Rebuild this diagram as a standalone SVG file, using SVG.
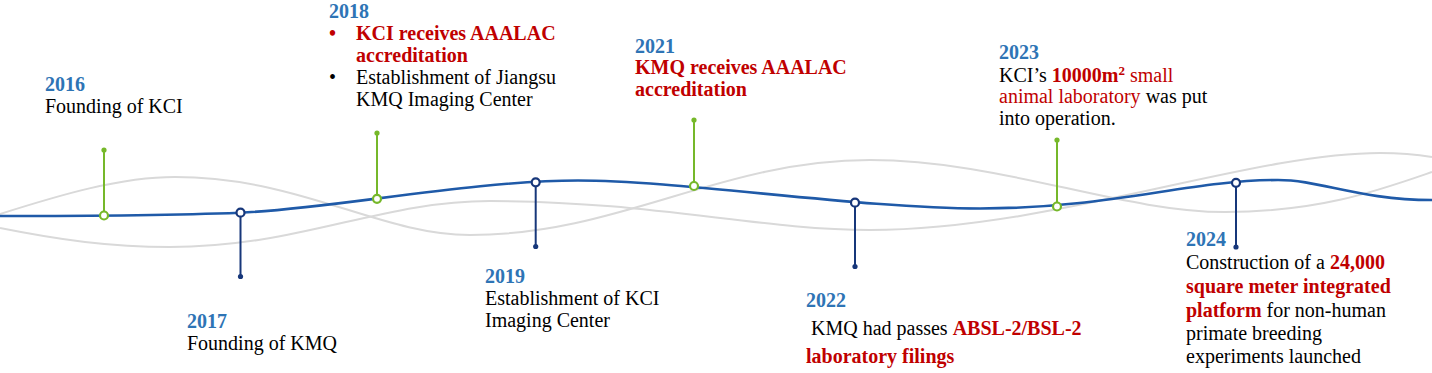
<svg xmlns="http://www.w3.org/2000/svg" width="1432" height="373" viewBox="0 0 1432 373">
<style>
text{font-family:"Liberation Serif","Times New Roman",serif;font-size:20px;fill:#000}
.yr{font-weight:bold;fill:#2e74b5}
.rb{font-weight:bold;fill:#c00000}
.rn{fill:#c00000}
.wave{fill:none;stroke:#d9d9d9;stroke-width:2}
.main{fill:none;stroke:#1f5aa8;stroke-width:2.6}
.gstem{stroke:#76b82a;stroke-width:2}
.nstem{stroke:#17377a;stroke-width:2}
.gc{fill:#fff;stroke:#76b82a;stroke-width:2.2}
.nc{fill:#fff;stroke:#17377a;stroke-width:2.2}
.gd{fill:#76b82a}
.nd{fill:#17377a}
</style>
<g id="connectors">
<path class="wave" d="M0,214 C60,195 120,177 175,177 C300,177 380,235 470,235 C620,235 720,160 870,160 C1000,160 1120,212 1225,212 C1320,212 1380,190 1432,172"/>
<path class="wave" d="M0,228 C60,240 110,247 170,247 C300,247 380,201 490,201 C650,201 760,230 870,230 C1050,230 1250,153 1380,153 C1400,153 1420,155 1432,157"/>
<path class="main" d="M0,216 C100,216 180,215 240,212.7 C330,209.2 470,180.5 578,180.5 C680,180.5 860,208.5 980,208.5 C1110,208.5 1190,180 1278,180 C1320,180 1360,200 1432,200"/>
<line class="gstem" x1="104" y1="150" x2="104" y2="211"/>
<line class="gstem" x1="377" y1="133" x2="377" y2="195"/>
<line class="gstem" x1="694" y1="120" x2="694" y2="182"/>
<line class="gstem" x1="1057" y1="140" x2="1057" y2="203"/>
<line class="nstem" x1="240.5" y1="217" x2="240.5" y2="276.5"/>
<line class="nstem" x1="535.7" y1="186" x2="535.7" y2="246.5"/>
<line class="nstem" x1="855" y1="207" x2="855" y2="266.5"/>
<line class="nstem" x1="1236" y1="187" x2="1236" y2="247"/>
</g>
<g id="n2016">
<circle class="gd" cx="104" cy="150" r="2.6"/>
<circle class="gc" cx="104" cy="215.5" r="4"/>
<text x="45" y="91" class="yr">2016</text>
<text x="45" y="113">Founding of KCI</text>
</g>
<g id="n2017">
<circle class="nc" cx="240.5" cy="212.7" r="4"/>
<circle class="nd" cx="240.5" cy="276.5" r="2.6"/>
<text x="187" y="328.3" class="yr">2017</text>
<text x="187" y="350">Founding of KMQ</text>
</g>
<g id="n2018">
<circle class="gd" cx="377" cy="133" r="2.6"/>
<circle class="gc" cx="377" cy="198.8" r="4"/>
<text x="329" y="18" class="yr">2018</text>
<text x="329" y="39.5" class="rb">•</text>
<text x="356" y="39.5" class="rb">KCI receives AAALAC</text>
<text x="356" y="61.5" class="rb">accreditation</text>
<text x="329" y="83.5">•</text>
<text x="356" y="83.5">Establishment of Jiangsu</text>
<text x="356" y="105.5">KMQ Imaging Center</text>
</g>
<g id="n2019">
<circle class="nc" cx="535.7" cy="182.3" r="4"/>
<circle class="nd" cx="535.7" cy="246.5" r="2.6"/>
<text x="485" y="283.3" class="yr">2019</text>
<text x="485" y="305">Establishment of KCI</text>
<text x="485" y="326.7">Imaging Center</text>
</g>
<g id="n2021">
<circle class="gd" cx="694" cy="120" r="2.6"/>
<circle class="gc" cx="694" cy="186" r="4"/>
<text x="635" y="52.5" class="yr">2021</text>
<text x="635" y="74" class="rb">KMQ receives AAALAC</text>
<text x="635" y="95.5" class="rb">accreditation</text>
</g>
<g id="n2022">
<circle class="nc" cx="855" cy="202.7" r="4"/>
<circle class="nd" cx="855" cy="266.5" r="2.6"/>
<text x="806" y="307.3" class="yr">2022</text>
<text x="811" y="335">KMQ had passes <tspan class="rb">ABSL-2/BSL-2</tspan></text>
<text x="806" y="362.5" class="rb">laboratory filings</text>
</g>
<g id="n2023">
<circle class="gd" cx="1057" cy="140" r="2.6"/>
<circle class="gc" cx="1057" cy="206.5" r="4"/>
<text x="999" y="59.3" class="yr">2023</text>
<text x="999" y="81.7">KCI’s <tspan class="rb">10000m</tspan><tspan class="rb" font-size="13" dy="-7">2</tspan><tspan class="rn" dy="7"> small</tspan></text>
<text x="999" y="103.3"><tspan class="rn">animal laboratory</tspan> was put</text>
<text x="999" y="124.5">into operation.</text>
</g>
<g id="n2024">
<circle class="nc" cx="1236" cy="182.8" r="4"/>
<circle class="nd" cx="1236" cy="247" r="2.6"/>
<text x="1186" y="245.7" class="yr">2024</text>
<text x="1186" y="269.3">Construction of a <tspan class="rb">24,000</tspan></text>
<text x="1186" y="292.7" class="rb">square meter integrated</text>
<text x="1186" y="316.7"><tspan class="rb">platform</tspan> for non-human</text>
<text x="1186" y="340">primate breeding</text>
<text x="1186" y="363.3">experiments launched</text>
</g>
</svg>
